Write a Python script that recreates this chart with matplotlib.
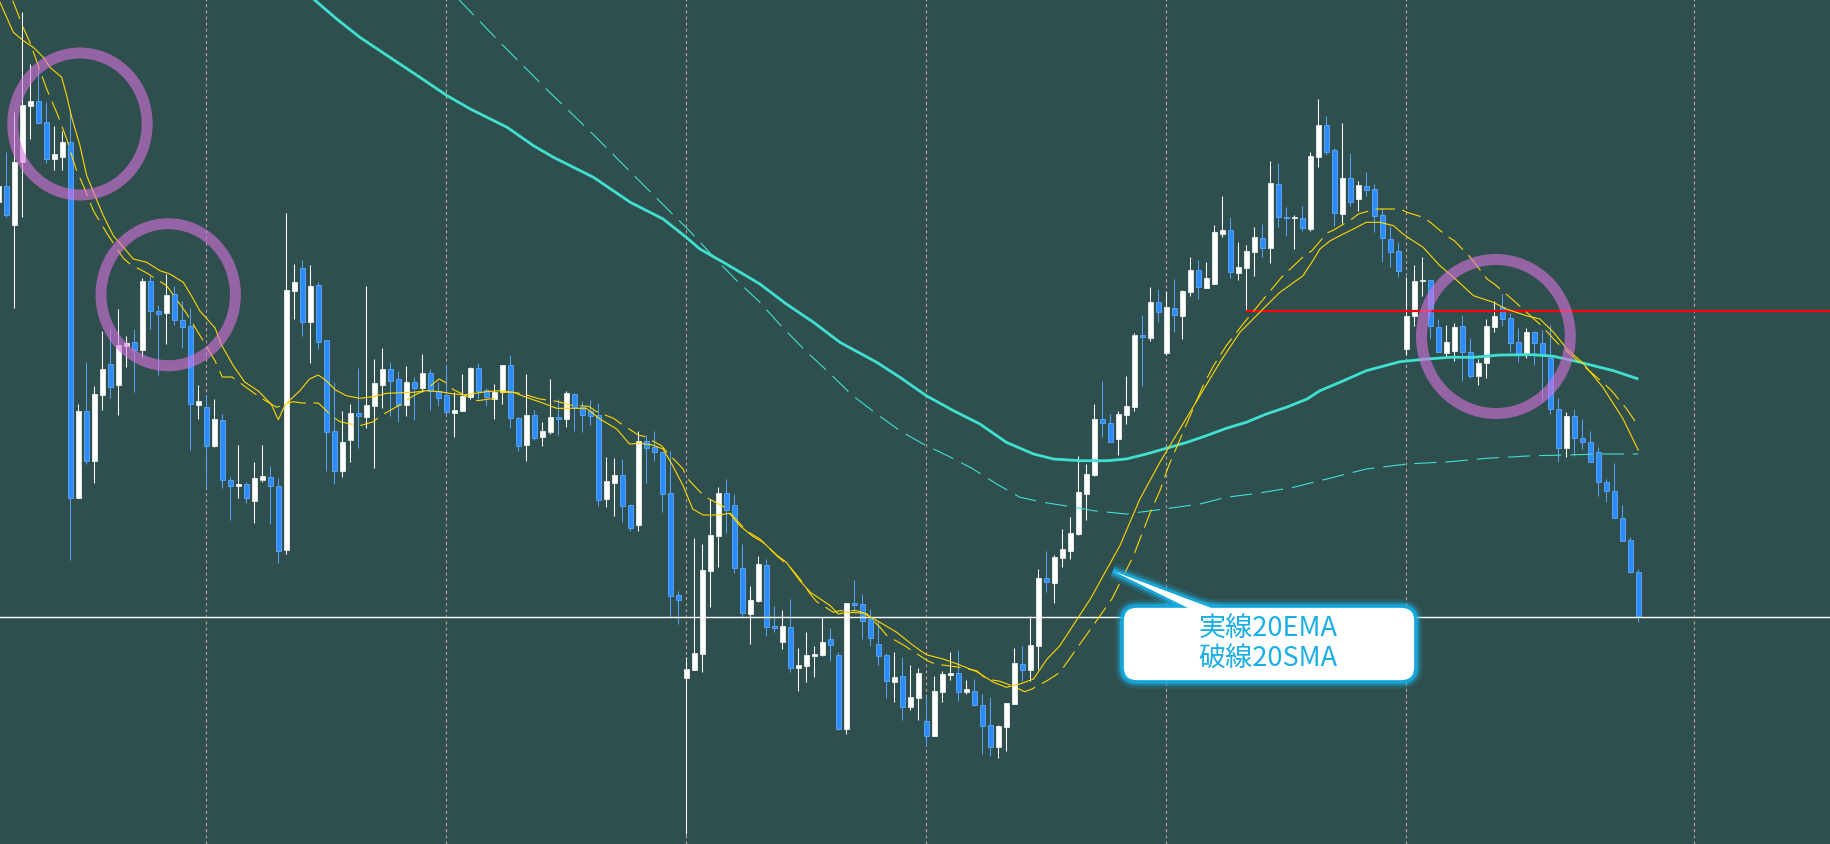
import numpy as np
import matplotlib
matplotlib.use("Agg")
import matplotlib.pyplot as plt
import matplotlib.patheffects as pe
from matplotlib.patches import Ellipse, FancyBboxPatch, Polygon

plt.rcParams['font.family'] = ['Noto Sans CJK JP', 'DejaVu Sans']
plt.rcParams['lines.scale_dashes'] = False

# ---------------------------------------------------------------- data
# bars run from index -1 (half cut at the left edge) to 204, prices in points
first_bar = -1
opens = [642, 658, 619, 682, 738, 743, 722, 685, 687, 702,
         346, 433, 383, 449, 480, 459, 498, 502, 494, 563,
         533, 531, 550, 524, 518, 439, 437, 398, 424, 364,
         358, 360, 343, 364, 367, 358, 294, 553, 576, 522,
         559, 504, 413, 373, 404, 431, 427, 438, 459, 475,
         465, 439, 462, 456, 471, 453, 449, 431, 433, 447,
         476, 454, 445, 452, 479, 426, 399, 429, 407, 412,
         427, 425, 450, 437, 433, 429, 345, 361, 369, 339,
         319, 403, 397, 392, 351, 249, 166, 174, 190, 273,
         308, 351, 339, 276, 230, 243, 279, 218, 202, 217,
         176, 178, 188, 189, 205, 189, 115, 241, 240, 225,
         200, 189, 162, 168, 137, 146, 123, 108, 152, 169,
         171, 152, 153, 139, 119, 97, 117, 140, 180, 174,
         198, 266, 261, 286, 293, 310, 350, 369, 425, 421,
         405, 429, 437, 509, 506, 542, 491, 536, 528, 552,
         574, 556, 560, 610, 614, 571, 576, 592, 606, 596,
         660, 627, 626, 626, 615, 687, 719, 694, 630, 666,
         645, 658, 655, 629, 605, 593, 495, 528, 563, 564,
         517, 491, 493, 518, 492, 468, 481, 517, 537, 526,
         502, 489, 512, 501, 486, 435, 396, 428, 406, 402,
         392, 362, 353, 326, 304, 272]
highs = [662, 692, 732, 832, 780, 776, 742, 718, 713, 732,
         440, 482, 458, 513, 515, 535, 508, 515, 566, 568,
         539, 570, 558, 543, 536, 459, 449, 445, 430, 367,
         399, 362, 382, 399, 378, 366, 631, 580, 584, 579,
         562, 504, 462, 433, 440, 476, 558, 485, 496, 482,
         473, 478, 467, 490, 475, 462, 479, 452, 470, 477,
         481, 456, 460, 479, 489, 427, 470, 434, 422, 465,
         445, 453, 451, 443, 444, 441, 387, 386, 385, 340,
         413, 409, 413, 392, 393, 253, 187, 306, 300, 345,
         357, 365, 350, 300, 258, 288, 285, 238, 234, 245,
         196, 212, 198, 227, 216, 192, 241, 264, 250, 235,
         223, 191, 192, 187, 179, 176, 148, 168, 173, 192,
         194, 164, 165, 150, 147, 119, 141, 196, 198, 228,
         275, 293, 289, 315, 327, 388, 380, 440, 463, 430,
         433, 468, 511, 529, 557, 555, 553, 565, 554, 587,
         584, 582, 619, 648, 627, 602, 599, 617, 620, 683,
         681, 637, 629, 638, 692, 745, 728, 696, 721, 691,
         663, 672, 660, 636, 618, 602, 567, 579, 587, 564,
         525, 519, 521, 529, 506, 485, 525, 543, 550, 531,
         516, 516, 513, 514, 519, 446, 432, 435, 425, 413,
         397, 365, 381, 339, 307, 275]
lows = [635, 627, 536, 627, 705, 720, 681, 674, 674, 284,
        346, 380, 361, 434, 446, 429, 477, 452, 487, 515,
        469, 500, 519, 496, 394, 425, 356, 397, 356, 324,
        346, 341, 321, 362, 320, 281, 290, 525, 508, 481,
        495, 373, 360, 367, 382, 396, 416, 376, 436, 428,
        422, 428, 424, 452, 434, 438, 430, 407, 433, 445,
        445, 438, 425, 440, 416, 393, 383, 404, 398, 410,
        409, 417, 413, 412, 419, 338, 337, 328, 322, 313,
        313, 361, 383, 332, 226, 220, 10, 174, 172, 237,
        277, 311, 271, 226, 200, 242, 208, 212, 195, 172,
        153, 162, 167, 188, 183, 114, 110, 233, 205, 198,
        179, 146, 142, 124, 134, 124, 98, 108, 142, 164,
        143, 150, 138, 90, 88, 86, 93, 140, 163, 163,
        175, 252, 241, 277, 285, 309, 324, 368, 407, 402,
        389, 420, 433, 458, 503, 522, 489, 512, 505, 548,
        545, 556, 560, 607, 566, 564, 533, 568, 587, 581,
        617, 608, 595, 613, 613, 677, 689, 618, 621, 638,
        633, 648, 612, 582, 577, 567, 489, 518, 548, 506,
        492, 487, 483, 463, 466, 459, 466, 512, 518, 492,
        482, 486, 479, 443, 430, 382, 387, 388, 395, 382,
        348, 342, 326, 303, 271, 222]
closes = [658, 629, 682, 739, 743, 721, 685, 690, 702, 346,
          433, 383, 450, 475, 457, 499, 501, 494, 563, 533,
          530, 549, 524, 517, 440, 443, 398, 425, 364, 358,
          360, 346, 366, 368, 358, 293, 554, 562, 522, 558,
          502, 412, 373, 402, 431, 428, 439, 461, 475, 463,
          439, 462, 456, 471, 453, 446, 432, 434, 448, 476,
          453, 447, 452, 479, 426, 398, 429, 406, 413, 427,
          425, 451, 437, 429, 428, 344, 363, 369, 338, 316,
          403, 396, 392, 350, 248, 244, 175, 191, 274, 309,
          351, 334, 276, 231, 244, 280, 217, 216, 218, 176,
          179, 189, 190, 202, 199, 115, 241, 239, 223, 206,
          188, 163, 167, 137, 147, 171, 108, 153, 170, 171,
          152, 155, 139, 118, 97, 118, 141, 181, 174, 199,
          266, 262, 287, 295, 311, 352, 370, 425, 421, 402,
          430, 438, 509, 507, 542, 532, 537, 529, 553, 574,
          557, 566, 612, 614, 572, 577, 593, 607, 596, 661,
          627, 626, 627, 616, 688, 719, 692, 631, 666, 642,
          659, 654, 628, 606, 592, 573, 528, 563, 564, 518,
          492, 502, 517, 492, 468, 481, 518, 528, 525, 501,
          489, 512, 501, 489, 435, 396, 428, 406, 402, 382,
          362, 353, 326, 303, 272, 227]

# 20 EMA (solid yellow) at bar positions
ema20_pos = [-0.79, 0.88, 2.13, 3.38, 4.63, 5.46, 6.92, 7.55, 8.17, 9.21,
             10.05, 11.09, 12.13, 13.38, 14.63, 15.88, 17.55, 19.21, 20.46, 22.13,
             23.38, 24.2, 26.1, 26.9, 28.4, 29.8, 31.5, 33.1, 34.0, 34.8,
             35.6, 36.7, 37.9, 39.0, 40.0, 41.1, 42.5, 44.2, 46.1, 47.5,
             50.9, 52.6, 54.2, 55.9, 57.5, 60.0, 61.7, 63.4, 65.0, 66.7,
             68.8, 72.5, 74.2, 76.3, 77.9, 79.2, 80.8, 82.1, 83.3, 84.6,
             85.8, 87.1, 89.2, 90.4, 91.7, 93.3, 94.6, 96.3, 97.5, 99.2,
             100.5, 103.0, 104.0, 105.0, 107.1, 109.2, 111.3, 113.4, 115.0, 117.1,
             119.2, 121.3, 123.4, 125.0, 126.7, 128.4, 130.1, 131.7, 135.5, 139.2,
             141.7, 144.2, 146.7, 149.2, 151.7, 154.2, 157.5, 159.2, 162.1, 163.5,
             164.2, 165.5, 166.7, 168.8, 170.0, 171.7, 173.4, 174.6, 175.5, 177.1,
             179.2, 180.9, 183.4, 185.9, 187.5, 190.0, 191.7, 193.4, 195.1, 197.1,
             199.6, 202.1, 204.0]
ema20_val = [841.7, 811.7, 803.3, 796.7, 786.7, 776.7, 766.7, 748.3, 726.7, 698.3,
             668.3, 648.3, 628.3, 608.3, 596.7, 585, 581.7, 573.3, 570, 561.7,
             545, 533, 516, 499, 478, 462, 453, 440, 424.3, 438.3,
             445, 453.3, 465, 469, 463.3, 454.3, 448.3, 445.7, 447.7, 450.7,
             451.7, 453.3, 452.3, 450, 449.3, 452.3, 453.3, 451.7, 446.7, 442,
             435.7, 435.7, 425, 415, 400, 400.7, 399, 395, 378.3, 358.3,
             335, 329, 329, 330.7, 318.3, 307.7, 301.7, 289, 281.7, 263.3,
             251.7, 238.3, 230, 231.7, 231, 221.7, 211.7, 198.3, 189.3, 185,
             179, 172.3, 161.7, 156.7, 160, 165, 185, 198.3, 245, 298.3,
             345, 381.7, 415, 448.3, 481.7, 511.7, 538.3, 551.7, 568.3, 585.7,
             595, 603.3, 608.3, 616.7, 621.7, 621.7, 618.3, 610, 605, 596.7,
             578.3, 566.7, 548.3, 541.7, 535, 528.3, 525, 511.7, 495, 480.7,
             456.4, 425.1, 393.8]

# 20 SMA (dashed yellow)
sma20_pos = [0.80, 1.63, 2.0, 2.96, 3.25, 5.05, 6.38, 7.55, 8.71, 9.63,
             10.88, 12.63, 14.63, 15.46, 17.55, 20.05, 22.5, 24.4, 26.1, 27.0,
             28.2, 31.7, 33.8, 34.8, 35.9, 36.9, 39.0, 39.8, 40.7, 41.7,
             43.0, 44.2, 45.9, 46.7, 49.0, 50.9, 52.2, 52.8, 54.1, 54.9,
             55.9, 58.1, 58.9, 61.0, 61.7, 63.4, 64.6, 66.7, 68.8, 70.5,
             72.8, 73.8, 75.9, 76.7, 79.0, 79.7, 81.9, 82.6, 84.6, 85.0,
             86.7, 87.5, 89.8, 90.4, 92.5, 94.2, 96.3, 98.0, 99.2, 100.5,
             101.3, 103.4, 104.2, 106.3, 107.6, 109.2, 110.1, 112.3, 113.2, 115.3,
             116.1, 118.2, 119.2, 121.3, 122.5, 124.2, 125.9, 127.3, 128.2, 130.3,
             131.7, 138.2, 140.9, 143.0, 144.2, 145.3, 147.8, 149.6, 150.9, 152.5,
             154.6, 156.3, 159.4, 161.9, 163.2, 165.1, 166.0, 168.2, 169.0, 171.2,
             174.2, 175.1, 177.1, 178.0, 180.0, 181.0, 183.0, 185.1, 186.0, 188.2,
             190.5, 191.9, 194.0, 197.8, 199.8, 200.7, 202.5, 204.0]
sma20_val = [843.3, 826.7, 818.3, 801.7, 795, 755, 730, 705, 675, 658.3,
             633.3, 610, 585.7, 580, 571, 558.3, 531, 506, 483, 467,
             467, 446.7, 436.7, 440, 442.3, 441, 441, 435, 427.7, 422.3,
             420, 418.3, 422.3, 427.7, 438.3, 448.3, 453.3, 456.7, 465, 461.7,
             454.3, 445.7, 443.3, 445.7, 451.7, 451.7, 450, 445, 442.7, 439,
             437.7, 432.3, 425.7, 421, 409, 407.7, 398.3, 391.7, 375, 366.7,
             352.3, 346.7, 336.7, 331.7, 313.3, 305, 288.3, 276.7, 265, 250,
             242.3, 231.7, 233.3, 233.3, 230, 216.7, 208.3, 198.3, 193.3, 182.7,
             180, 177.7, 176.7, 173.3, 165, 162.7, 157.7, 152.3, 155, 164.3,
             171.7, 245, 288.3, 331.7, 353.3, 378.3, 425, 458.3, 478.3, 498.3,
             520, 536.7, 566.7, 585.7, 593.3, 611, 614.3, 625, 630, 635,
             635, 631.7, 626.7, 621.7, 608.3, 603.3, 586.7, 565, 560, 545,
             528.3, 518.3, 500, 473.7, 459.8, 452.9, 435.5, 418.1]

# long EMA (solid turquoise)
ema_long_pos = [37.6, 38.4, 41.3, 44.2, 46.7, 51.7, 55.1, 58.0, 62.6, 65.9,
                68.4, 73.4, 78.0, 82.1, 85.0, 86.7, 90.0, 94.2, 97.5, 100.9,
                104.2, 108.8, 111.7, 115.0, 118.4, 121.7, 125.0, 128.4, 130.9, 134.2,
                137.6, 140.0, 142.5, 145.0, 147.6, 150.0, 152.5, 155.0, 157.5, 160.0,
                162.6, 164.2, 166.7, 170.0, 174.2, 177.6, 180.5, 183.4, 186.7, 190.9,
                193.4, 195.9, 198.4, 200.9, 202.5, 204.0]
ema_long_val = [851, 845, 825, 806.7, 793.3, 766.7, 748.3, 735, 716.7, 698.3,
                686.7, 666.7, 641.7, 625, 606.7, 595, 580, 560, 540, 521.7,
                501.7, 481.7, 466.7, 448.3, 433.3, 420, 401.7, 390, 385, 383.3,
                383.3, 385, 390, 395.7, 401.7, 408.3, 415.7, 421.7, 430, 436.7,
                445, 453.3, 461.7, 473.3, 482.3, 485, 486.7, 486.7, 489, 489.3,
                487.7, 483.3, 478.3, 473.3, 469, 465]

# long SMA (dashed turquoise)
sma_long_pos = [56.0, 56.7, 61.7, 67.5, 73.6, 79.6, 85.5, 88.2, 91.1, 94.2,
                96.9, 99.8, 102.8, 105.7, 108.8, 111.7, 114.6, 117.8, 120.7, 123.8,
                126.7, 129.6, 132.8, 135.9, 140.0, 145.0, 149.2, 152.5, 156.7, 160.9,
                164.2, 165.9, 170.0, 175.1, 180.5, 185.1, 190.9, 195.1, 199.3, 204.0]
sma_long_val = [850, 843.3, 801.7, 755, 707.7, 659.3, 612.3, 589, 565, 541.7,
                517.7, 494, 471.7, 449, 430, 413.3, 400, 387.7, 375.7, 360,
                346.7, 341.7, 337.7, 333.3, 330, 335.3, 340, 346.7, 351, 356.7,
                363.3, 366.7, 375, 380, 382.3, 385.7, 388.3, 389, 390, 390]

separator_bars = [25, 55, 85, 115, 145, 175, 211]
white_level = 226.7
red_level = 533.3
red_from_bar = 155
note_lines = ["実線20EMA", "破線20SMA"]

# ---------------------------------------------------------------- style
W, H = 1830, 845
BG = '#2f4f4f'
GRID = '#c99a9a'
BEAR_FILL = '#2b8ef8'
BEAR_EDGE = '#5b9ff0'
YELLOW = '#ffd700'
TURQ = '#40e0d0'
RING = '#da73df'

fig = plt.figure(figsize=(W / 100, H / 100), dpi=100, facecolor=BG)
ax = fig.add_axes([0, 0, 1, 1])
ax.set_facecolor(BG)
# one bar = 8 px, first full bar centred at x = 6.3 px
ax.set_xlim(-0.7875, -0.7875 + W / 8)
ax.set_ylim(0, H)
ax.axis('off')

# period separators
ax.vlines(separator_bars, 0, H, colors=GRID, lw=0.8,
          linestyles=(0, (2.2, 2.2)), zorder=1)

# candles
idx = np.arange(first_bar, first_bar + len(opens))
o = np.array(opens, float)
h = np.array(highs, float)
l = np.array(lows, float)
c = np.array(closes, float)
up = c >= o
lo = np.minimum(o, c)
hgt = np.maximum(np.abs(c - o), 1.5)

ax.vlines(idx[up], l[up], h[up], color='white', lw=0.75, zorder=2)
ax.vlines(idx[~up], l[~up], h[~up], color=BEAR_EDGE, lw=0.75, zorder=2)
ax.bar(idx[up], hgt[up], bottom=lo[up], width=0.56, color='white',
       edgecolor='white', lw=0.5, zorder=3)
ax.bar(idx[~up], hgt[~up], bottom=lo[~up], width=0.56, color=BEAR_FILL,
       edgecolor=BEAR_EDGE, lw=0.7, zorder=3)

# horizontal levels
ax.axhline(white_level, color='white', lw=1.0, zorder=4)
ax.hlines(red_level, red_from_bar, -0.7875 + W / 8, color='#ff0000', lw=1.6, zorder=4)

# moving averages
ax.plot(ema_long_pos, ema_long_val, color=TURQ, lw=2.0, zorder=5,
        solid_capstyle='butt')
ax.plot(sma_long_pos, sma_long_val, color=TURQ, lw=0.8, dashes=(16, 6.5), zorder=5)
ax.plot(ema20_pos, ema20_val, color=YELLOW, lw=0.8, zorder=6)
ax.plot(sma20_pos, sma20_val, color=YELLOW, lw=0.8, dashes=(14, 5.5), zorder=6)

# purple rings (centre bar, centre price, width in bars, height in points)
for cx, cy, ew, eh in [(9.21, 720, 16.8, 142), (20.24, 549.3, 16.8, 142),
                       (186.2, 507.5, 18.6, 154)]:
    ax.add_patch(Ellipse((cx, cy), ew, eh, fill=False, ec=RING, alpha=0.6,
                         lw=7.9, zorder=7))

# callout, drawn in pixel space
ov = fig.add_axes([0, 0, 1, 1])
ov.set_xlim(0, W)
ov.set_ylim(H, 0)
ov.axis('off')
ov.patch.set_alpha(0)

glow = [pe.Stroke(linewidth=11, foreground='#1ab8ea', alpha=0.15),
        pe.Stroke(linewidth=7, foreground='#1ab8ea', alpha=0.35),
        pe.Stroke(linewidth=4, foreground='#17b0e6', alpha=0.8),
        pe.Normal()]

tip = [(1113, 572), (1190, 610), (1214, 610)]
ov.add_patch(Polygon(tip, closed=True, fc='white', ec='#10a8e0', lw=1.0,
                     path_effects=glow, zorder=2))
ov.add_patch(FancyBboxPatch((1123, 608), 292, 74,
                            boxstyle='round,pad=0,rounding_size=14',
                            fc='white', ec='#10a8e0', lw=1.2,
                            path_effects=glow, zorder=3))
ov.add_patch(Polygon(tip, closed=True, fc='white', ec='none', zorder=4))

ov.text(1268, 628, note_lines[0], ha='center', va='center', fontsize=19.5,
        color='#1aaee6', zorder=5)
ov.text(1268, 658, note_lines[1], ha='center', va='center', fontsize=19.5,
        color='#1aaee6', zorder=5)

fig.savefig('out.png', dpi=100, facecolor=BG)
